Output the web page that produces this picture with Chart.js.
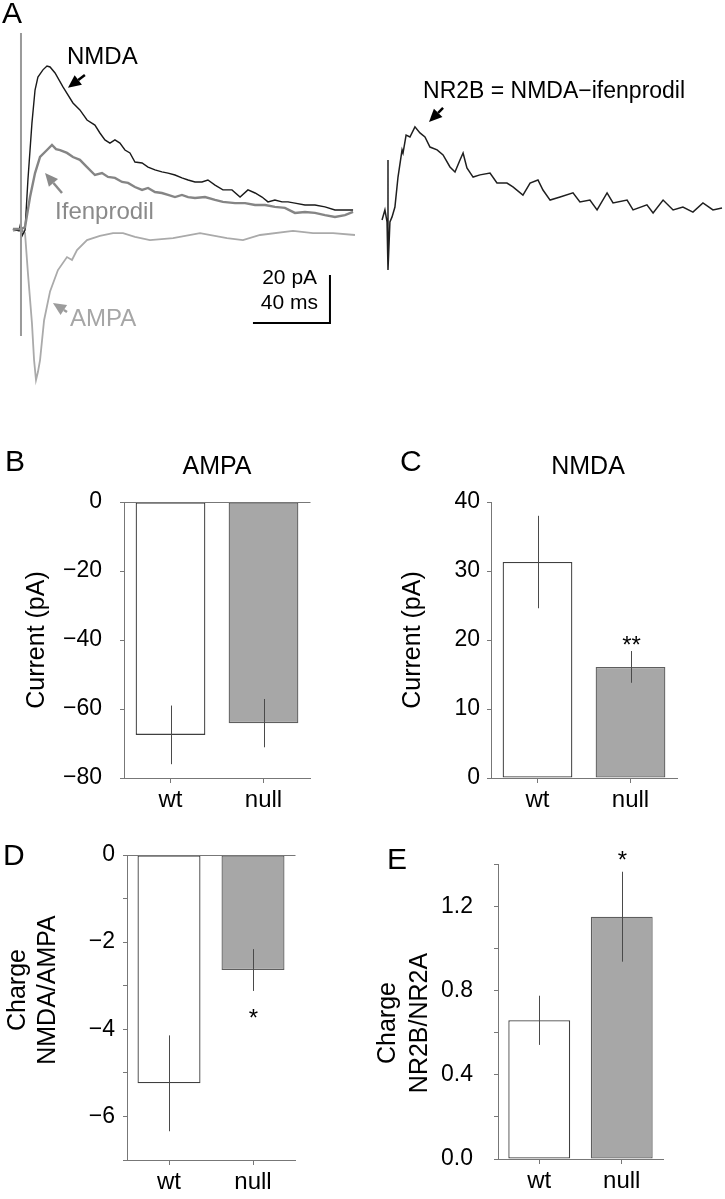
<!DOCTYPE html>
<html>
<head>
<meta charset="utf-8">
<script src="https://cdn.jsdelivr.net/npm/chart.js@4.4.0/dist/chart.umd.min.js"></script>
<style>
  html, body { margin: 0; padding: 0; background: #fff; }
  #fig { position: relative; width: 725px; height: 1199px; overflow: hidden; }
  #fig canvas { position: absolute; }
</style>
</head>
<body>
<div id="fig">
  <canvas id="traceA" width="365" height="440" style="left:0;top:0"></canvas>
  <canvas id="traceB" width="355" height="300" style="left:370px;top:0"></canvas>
  <canvas id="barB" width="340" height="390" style="left:0;top:440px"></canvas>
  <canvas id="barC" width="363" height="390" style="left:362px;top:440px"></canvas>
  <canvas id="barD" width="340" height="369" style="left:0;top:830px"></canvas>
  <canvas id="barE" width="363" height="369" style="left:362px;top:830px"></canvas>
</div>
<script>
// ---- panel A traces (time in ms, current in pA) ----
const nmdaT = [-4.2, -1.0, 0, 0.5, 2.1, 3.6, 5.7, 7.3, 8.8, 11.4, 13.5, 15.1, 17.7, 21.8, 27.0, 30.6, 34.3,
  38.4, 41.0, 43.6, 46.2, 48.8, 51.4, 54.0, 56.6, 59.2, 62.9, 66.0, 69.6, 73.2, 76.4, 80.0, 83.6, 86.8, 90.4,
  94.0, 97.1, 100.8, 104.9, 109.6, 113.8, 117.9, 121.6, 125.2, 128.3, 131.9, 135.6, 138.7, 142.3, 147.5,
  152.7, 157.9, 163.1, 168.3, 172.5];
const nmdaI = [0, -0.8, 3, -3, -0.4, 20.4, 44.2, 57.9, 63.3, 66.3, 67.9, 67.5, 65, 59.2, 52.5, 49.6, 45.4,
  43.3, 40.0, 37.1, 35.8, 37.1, 35.8, 32.9, 31.7, 27.9, 27.5, 25.8, 24.6, 23.8, 23.3, 22.5, 21.3, 20.4, 19.6,
  19.6, 20.4, 18.3, 16.3, 16.3, 13.3, 16.3, 15.0, 13.3, 11.3, 12.1, 11.3, 11.3, 10.8, 10.0,
  10.0, 9.2, 7.9, 7.9, 7.9];

const ifenT = [-4.2, 0, 2.1, 4.7, 7.3, 9.9, 13.5, 16.1, 18.2, 20.3, 23.9, 27.0, 30.6, 34.3,
  38.4, 42.1, 45.2, 48.8, 52.5, 55.6, 59.2, 62.9, 66.0, 69.6, 73.2, 76.4, 80.0, 83.6, 86.8, 90.4, 95.6,
  100.8, 104.9, 111.2, 116.4, 121.6, 126.8, 131.9, 137.1, 142.3, 147.5, 152.7, 157.9, 163.1, 168.3, 172.5];
const ifenI = [0, 0, 0.8, 13.3, 23.3, 30, 32.9, 35, 33.3, 32.9, 31.7, 30, 28.8, 25.8,
  22.5, 23.3, 21.7, 21.3, 19.6, 19.2, 17.5, 16.3, 17.1, 15.4, 15.0, 14.2, 13.3, 14.2, 13.3, 12.9, 13.3,
  12.1, 11.3, 10.8, 10.8, 10.0, 10.0, 9.2, 8.8, 6.7, 7.1, 6.7, 5.8, 5.0, 5.8, 7.1];

const ampaT = [-4.2, 0, 2.1, 3.6, 5.7, 6.8, 7.8, 8.8, 9.9, 12.0, 15.1, 19.2, 23.9, 26.5, 29.1, 34.3, 41.0, 47.8,
  53, 59.2, 67, 79, 93, 107, 115.3, 124.2, 141.3, 151.7, 162.1, 173.5];
const ampaI = [-0.8, 0, -1.7, -18.3, -39.2, -54.6, -62.9, -59.6, -54.6, -38.0, -26, -17.1, -11.7, -12.9, -8.8, -4.6, -2.9, -1.7,
  -1.7, -3.3, -4.6, -3.8, -1.7, -3.8, -4.6, -2.5, -0.8, -1.7, -1.7, -2.5];

const artifactT = [0, 0];
const artifactI = [81.7, -44.6];

const nr2bT = [-3.1, -1.6, -0.5, 0, 0, 1.0, 2.1, 3.6, 5.2, 7.3, 7.8, 9.4, 11.4, 14.0, 16.6, 19.2, 21.8, 25.5, 28.6,
  32.2, 34.8, 37.4, 39.0, 41.0, 44.2, 47.8, 53.0, 56.6, 61.8, 64.9, 70.1, 73.8, 77.9, 80.5, 84.2, 89.4,
  96.1, 99.7, 104.9, 108.6, 113.8, 116.9, 124.2, 127.3, 134.5, 137.7, 142.9, 148.1, 153.2, 158.4, 163.6,
  168.8, 173.5];
const nr2bI = [0, 4.2, -0.8, 25, -20.8, -0.8, 1.3, 5.4, 17.9, 29.2, 27.9, 35.4, 34.6, 38.8, 36.3, 34.6, 30.4, 29.2, 27.1,
  22.1, 20, 25, 27.9, 21.7, 17.9, 18.8, 19.6, 15.4, 15.4, 13.8, 10.4, 15.4, 16.7, 12.5, 8.3, 9.6,
  11.3, 7.5, 8.3, 4.2, 11.3, 7.1, 8.3, 4.2, 6.3, 2.9, 8.3, 4.2, 5.4, 3.3, 7.1,
  4.2, 5.0];

// ---- panels B-E: group means and SEM ----
const groups = ['wt', 'null'];
const ampaMean = [-67.5, -64.1];
const ampaSem = [8.5, 7.0];
const nmdaMean = [31.3, 16.1];
const nmdaSem = [6.7, 2.3];
const nmdaStars = ['', '**'];
const ratioMean = [-5.24, -2.64];
const ratioSem = [1.1, 0.48];
const ratioStars = ['', '*'];
const nr2bMean = [0.66, 1.153];
const nr2bSem = [0.117, 0.214];
const nr2bStars = ['', '*'];

const FONT = '"Liberation Sans", Arial, Helvetica, sans-serif';
Chart.defaults.font.family = FONT;
Chart.defaults.color = '#000';

// text, arrows and scale bar drawn on top of the datasets
const notes = {
  id: 'notes',
  afterDatasetsDraw(chart, args, opts) {
    const ctx = chart.ctx;
    const xs = chart.scales.x, ys = chart.scales.y;
    const toPx = p => [xs.getPixelForValue(p[0]), ys.getPixelForValue(p[1])];
    ctx.save();
    (opts.arrows || []).forEach(a => {
      const [x1, y1] = toPx(a.from), [x2, y2] = toPx(a.to);
      const ang = Math.atan2(y2 - y1, x2 - x1), len = 13, half = 6;
      const bx = x2 - len * Math.cos(ang), by = y2 - len * Math.sin(ang);
      ctx.strokeStyle = a.color; ctx.fillStyle = a.color; ctx.lineWidth = 2.5;
      ctx.beginPath(); ctx.moveTo(x1, y1); ctx.lineTo(bx, by); ctx.stroke();
      ctx.beginPath();
      ctx.moveTo(x2, y2);
      ctx.lineTo(bx + half * Math.sin(ang), by - half * Math.cos(ang));
      ctx.lineTo(bx - half * Math.sin(ang), by + half * Math.cos(ang));
      ctx.closePath(); ctx.fill();
    });
    if (opts.scaleBar) {
      const s = opts.scaleBar;
      const [cx, cy] = toPx([s.t, s.i]);
      const [lx] = toPx([s.t - s.dt, s.i]);
      const [, ty] = toPx([s.t, s.i + s.di]);
      ctx.strokeStyle = '#000'; ctx.lineWidth = 2;
      ctx.beginPath(); ctx.moveTo(lx, cy); ctx.lineTo(cx, cy); ctx.lineTo(cx, ty); ctx.stroke();
    }
    (opts.texts || []).forEach(t => {
      ctx.font = `${t.size}px ${FONT}`;
      ctx.fillStyle = t.color || '#000';
      ctx.textAlign = t.align || 'left';
      ctx.textBaseline = 'middle';
      const [x, y] = t.px ? t.px : toPx(t.at);
      if (t.rotate) {
        ctx.save(); ctx.translate(x, y); ctx.rotate(-Math.PI / 2); ctx.fillText(t.text, 0, 0); ctx.restore();
      } else {
        ctx.fillText(t.text, x, y);
      }
    });
    ctx.restore();
  }
};

// SEM lines, significance stars and zero line for the bar panels
const errorBars = {
  id: 'errorBars',
  afterDatasetsDraw(chart, args, opts) {
    if (!opts.sem) return;
    const ctx = chart.ctx, ys = chart.scales.y, area = chart.chartArea;
    const ds = chart.data.datasets[0];
    ctx.save();
    if (opts.zeroLine) {
      const y0 = Math.round(ys.getPixelForValue(0)) + 0.5;
      ctx.strokeStyle = '#777'; ctx.lineWidth = 1;
      ctx.beginPath(); ctx.moveTo(area.left, y0); ctx.lineTo(area.right + 0.5, y0); ctx.stroke();
    }
    chart.getDatasetMeta(0).data.forEach((bar, i) => {
      const m = ds.data[i], e = opts.sem[i];
      const x = Math.round(bar.x) + 0.5;
      ctx.strokeStyle = '#4a4a4a'; ctx.lineWidth = 1;
      ctx.beginPath();
      ctx.moveTo(x, ys.getPixelForValue(m - e));
      ctx.lineTo(x, ys.getPixelForValue(m + e));
      ctx.stroke();
      if (opts.stars && opts.stars[i]) {
        const end = ys.getPixelForValue(m >= 0 ? m + e : m - e);
        ctx.font = `24px ${FONT}`;
        ctx.fillStyle = '#000';
        ctx.textAlign = 'center';
        ctx.textBaseline = 'alphabetic';
        ctx.fillText(opts.stars[i], x, end + opts.starOffset + 0.56 * 24);
      }
    });
    ctx.restore();
  }
};

Chart.register(notes, errorBars);

function series(t, v) {
  return t.map((x, k) => ({ x: x, y: v[k] }));
}

function traceChart(id, sets, range, noteOpts) {
  return new Chart(document.getElementById(id), {
    type: 'scatter',
    data: {
      datasets: sets.map(s => ({
        data: series(s.t, s.i),
        showLine: true,
        borderColor: s.color,
        borderWidth: s.width,
        pointRadius: 0,
        tension: 0,
        fill: false
      }))
    },
    options: {
      responsive: false,
      animation: false,
      events: [],
      layout: { padding: 0 },
      plugins: { legend: { display: false }, tooltip: { enabled: false }, notes: noteOpts },
      scales: {
        x: { type: 'linear', display: false, min: range.t[0], max: range.t[1] },
        y: { type: 'linear', display: false, min: range.i[0], max: range.i[1] }
      }
    }
  });
}

function barChart(id, means, sem, stars, o) {
  return new Chart(document.getElementById(id), {
    type: 'bar',
    data: {
      labels: groups,
      datasets: [{
        data: means,
        backgroundColor: ['#ffffff', '#a7a7a7'],
        borderColor: ['#3f3f3f', '#5e5e5e'],
        borderWidth: 1.3,
        borderSkipped: false,
        barPercentage: 0.75,
        categoryPercentage: 1
      }]
    },
    options: {
      responsive: false,
      animation: false,
      events: [],
      layout: { padding: { top: o.top, right: o.right, left: 0, bottom: 0 } },
      plugins: {
        legend: { display: false },
        tooltip: { enabled: false },
        errorBars: { sem: sem, stars: stars, starOffset: o.starOffset, zeroLine: o.zeroLine },
        notes: { texts: o.texts }
      },
      scales: {
        x: {
          grid: { offset: false, drawOnChartArea: false, tickLength: 5, color: '#777' },
          border: { color: '#777' },
          ticks: { font: { size: 24 }, color: '#000', padding: 3 },
          afterFit: s => { s.height = o.xh; }
        },
        y: {
          min: o.min,
          max: o.max,
          grid: { drawOnChartArea: false, tickLength: 4, color: '#777' },
          border: { color: '#777' },
          ticks: { stepSize: o.step, callback: o.fmt, font: { size: 23 }, color: '#000', padding: o.pad },
          afterFit: s => { s.width = o.yw; }
        }
      }
    }
  });
}

const minus = v => (v < 0 ? '\u2212' + Math.abs(v) : String(v));

// panel A: NMDA, ifenprodil and AMPA traces
traceChart('traceA', [
  { t: artifactT, i: artifactI, color: '#9a9a9a', width: 2 },
  { t: ifenT, i: ifenI, color: '#858585', width: 2.4 },
  { t: nmdaT, i: nmdaI, color: '#1a1a1a', width: 1.4 },
  { t: ampaT, i: ampaI, color: '#aaaaaa', width: 1.8 }
], { t: [-10.9, 178.7], i: [-87.9, 95.4] }, {
  arrows: [
    { from: [33.2, 64.2], to: [24.4, 58.8], color: '#000' },
    { from: [21.3, 15.0], to: [12.5, 23.3], color: '#8a8a8a' },
    { from: [23.9, -34.6], to: [16.6, -30.8], color: '#9c9c9c' }
  ],
  scaleBar: { t: 160.5, i: -39.2, dt: 40, di: 20 },
  texts: [
    { text: 'A', px: [2, 15], size: 30 },
    { text: 'NMDA', at: [23.9, 71.3], size: 24 },
    { text: 'Ifenprodil', at: [17.7, 7.1], size: 24, color: '#8a8a8a' },
    { text: 'AMPA', at: [25.5, -37.5], size: 24, color: '#a6a6a6' },
    { text: '20 pA', at: [153.8, -20.4], size: 21, align: 'right' },
    { text: '40 ms', at: [154.3, -30.8], size: 21, align: 'right' }
  ]
});

// panel A right: NR2B component
traceChart('traceB', [
  { t: nr2bT, i: nr2bI, color: '#1f1f1f', width: 1.5 }
], { t: [-9.35, 175.06], i: [-33.33, 91.67] }, {
  arrows: [{ from: [28.6, 46.7], to: [21.3, 40.8], color: '#000' }],
  texts: [{ text: 'NR2B = NMDA\u2212ifenprodil', at: [18.2, 53.3], size: 23 }]
});

barChart('barB', ampaMean, ampaSem, null, {
  top: 62, right: 30, yw: 124, xh: 52, min: -80, max: 0, step: 20, pad: 18, zeroLine: true,
  fmt: v => minus(v),
  texts: [
    { text: 'B', px: [5, 23], size: 30 },
    { text: 'AMPA', px: [217, 27], size: 25, align: 'center' },
    { text: 'Current (pA)', px: [37, 200], size: 25, align: 'center', rotate: true }
  ]
});

barChart('barC', nmdaMean, nmdaSem, nmdaStars, {
  top: 62, right: 48, yw: 129, xh: 52, min: 0, max: 40, step: 10, pad: 7, starOffset: -11,
  fmt: v => String(v),
  texts: [
    { text: 'C', px: [38, 23], size: 30 },
    { text: 'NMDA', px: [226, 27], size: 25, align: 'center' },
    { text: 'Current (pA)', px: [51, 200], size: 25, align: 'center', rotate: true }
  ]
});

barChart('barD', ratioMean, ratioSem, ratioStars, {
  top: 25, right: 45, yw: 127, xh: 39, min: -7, max: 0, step: 1, pad: 8, zeroLine: true, starOffset: 22,
  fmt: v => (Math.round(v) % 2 === 0 ? minus(Math.round(v)) : ''),
  texts: [
    { text: 'D', px: [3, 27], size: 30 },
    { text: 'Charge', px: [18, 160], size: 25, align: 'center', rotate: true },
    { text: 'NMDA/AMPA', px: [48, 160], size: 25, align: 'center', rotate: true }
  ]
});

barChart('barE', nr2bMean, nr2bSem, nr2bStars, {
  top: 28, right: 62, yw: 136, xh: 40, min: 0, max: 1.4, step: 0.2, pad: 21, starOffset: -17,
  fmt: v => { const r = Math.round(v * 10); return (r % 4 === 0 && r < 14) ? (r / 10).toFixed(1) : ''; },
  texts: [
    { text: 'E', px: [25, 31], size: 30 },
    { text: 'Charge', px: [26, 193], size: 25, align: 'center', rotate: true },
    { text: 'NR2B/NR2A', px: [58, 193], size: 25, align: 'center', rotate: true }
  ]
});
</script>
</body>
</html>
